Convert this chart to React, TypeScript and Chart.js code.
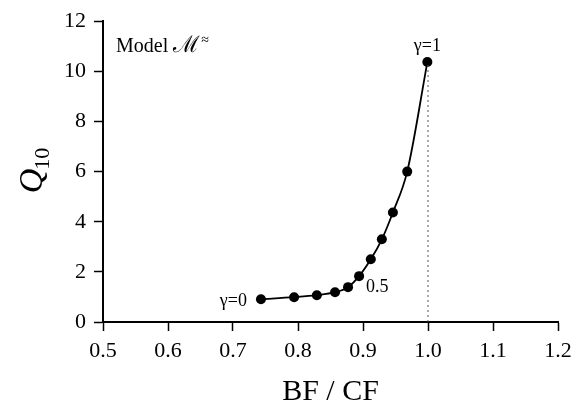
import React, { useEffect, useRef } from "react";
import { Chart, registerables } from "chart.js";

Chart.register(...registerables);

const bfcf = [0.743, 0.794, 0.829, 0.857, 0.877, 0.894, 0.912, 0.929, 0.946, 0.968, 0.999];
const q10 = [0.91, 0.99, 1.07, 1.19, 1.39, 1.83, 2.5, 3.3, 4.37, 6.0, 10.37];
const xTicks = [0.5, 0.6, 0.7, 0.8, 0.9, 1.0, 1.1, 1.2];
const yTicks = [0, 2, 4, 6, 8, 10, 12];
const modelLabel = "Model ℳ";
const gammaLabels = ["γ=0", "0.5", "γ=1"];
const xTitle = "BF / CF";

const SERIF = "'Liberation Serif', 'Times New Roman', serif";

const annot = {
  id: "annot",
  afterDatasetsDraw(chart: any) {
    const ctx = chart.ctx;
    const xs = chart.scales.x;
    const ys = chart.scales.y;
    ctx.save();
    // dotted vertical line at x = 1.0
    const lastX = bfcf[bfcf.length - 1];
    const lastY = q10[q10.length - 1];
    ctx.strokeStyle = "#555";
    ctx.lineWidth = 1;
    ctx.setLineDash([2, 3]);
    ctx.beginPath();
    ctx.moveTo(xs.getPixelForValue(1.0), ys.getPixelForValue(0));
    ctx.lineTo(xs.getPixelForValue(1.0), ys.getPixelForValue(lastY));
    ctx.stroke();
    ctx.setLineDash([]);

    ctx.fillStyle = "#000";
    ctx.textBaseline = "alphabetic";
    // Model label
    ctx.font = `20px ${SERIF}`;
    ctx.textAlign = "left";
    ctx.fillText("Model ", 116, 52);
    const w0 = ctx.measureText("Model ").width;
    ctx.font = `23px ${SERIF}`;
    ctx.fillText(modelLabel.slice(6), 116 + w0, 52);
    const w1 = ctx.measureText(modelLabel.slice(6)).width;
    ctx.font = `14px ${SERIF}`;
    ctx.fillText("≈", 116 + w0 + w1 + 1, 44);

    // gamma labels
    ctx.font = `18px ${SERIF}`;
    ctx.textAlign = "right";
    ctx.fillText(gammaLabels[0], xs.getPixelForValue(bfcf[0]) - 14, ys.getPixelForValue(q10[0]) + 7);
    ctx.textAlign = "left";
    ctx.fillText(gammaLabels[1], xs.getPixelForValue(bfcf[4]) + 18, ys.getPixelForValue(q10[4]) + 5);
    ctx.textAlign = "center";
    ctx.fillText(gammaLabels[2], xs.getPixelForValue(lastX), ys.getPixelForValue(lastY) - 11);

    // Y title Q10
    ctx.translate(42, 170);
    ctx.rotate(-Math.PI / 2);
    ctx.textAlign = "left";
    ctx.font = `italic 34px ${SERIF}`;
    const qw = ctx.measureText("Q").width;
    const sub = "10";
    ctx.font = `22px ${SERIF}`;
    const sw = ctx.measureText(sub).width;
    const total = qw + sw;
    ctx.font = `italic 34px ${SERIF}`;
    ctx.fillText("Q", -total / 2, 0);
    ctx.font = `22px ${SERIF}`;
    ctx.fillText(sub, -total / 2 + qw - 1, 7);
    ctx.restore();
  },
};

export default function App() {
  const ref = useRef<HTMLCanvasElement>(null);
  useEffect(() => {
    document.body.style.margin = "0";
    const chart = new Chart(ref.current!, {
      type: "scatter",
      data: {
        datasets: [
          {
            data: bfcf.map((x, i) => ({ x, y: q10[i] })),
            showLine: true,
            borderColor: "#000",
            backgroundColor: "#000",
            borderWidth: 1.8,
            pointRadius: 5,
            pointBackgroundColor: "#000",
            pointBorderWidth: 0,
            cubicInterpolationMode: "monotone",
          } as any,
        ],
      },
      options: {
        animation: false,
        responsive: false,
        maintainAspectRatio: false,
        layout: { padding: { top: 20, right: 24, left: 0, bottom: 0 } },
        plugins: { legend: { display: false }, tooltip: { enabled: false } },
        scales: {
          x: {
            type: "linear",
            min: 0.5,
            max: 1.2,
            afterBuildTicks: (s: any) => {
              s.ticks = xTicks.map((v) => ({ value: v }));
            },
            afterFit: (s: any) => {
              s.height = 82;
            },
            ticks: {
              color: "#000",
              font: { family: SERIF, size: 22 },
              padding: 7,
              maxRotation: 0,
              callback: (v: any) => Number(v).toFixed(1),
            },
            grid: { drawOnChartArea: false, color: "#000", tickLength: 9, tickWidth: 1.5 },
            border: { color: "#000", width: 2 },
            title: {
              display: true,
              text: xTitle,
              color: "#000",
              font: { family: SERIF, size: 30, lineHeight: 0.8 },
              padding: { top: 14, bottom: 0 },
            },
          },
          y: {
            type: "linear",
            min: 0,
            max: 12,
            afterBuildTicks: (s: any) => {
              s.ticks = yTicks.map((v) => ({ value: v }));
            },
            afterFit: (s: any) => {
              s.width = 103;
            },
            ticks: {
              color: "#000",
              font: { family: SERIF, size: 22 },
              padding: 8,
              callback: (v: any) => String(v),
            },
            grid: { drawOnChartArea: false, color: "#000", tickLength: 9, tickWidth: 1.5 },
            border: { color: "#000", width: 2 },
          },
        },
      },
      plugins: [annot],
    });
    return () => chart.destroy();
  }, []);
  return (
    <div style={{ position: "absolute", left: 0, top: 0, width: 582, height: 404 }}>
      <canvas ref={ref} width={582} height={404} style={{ width: 582, height: 404 }} />
    </div>
  );
}
